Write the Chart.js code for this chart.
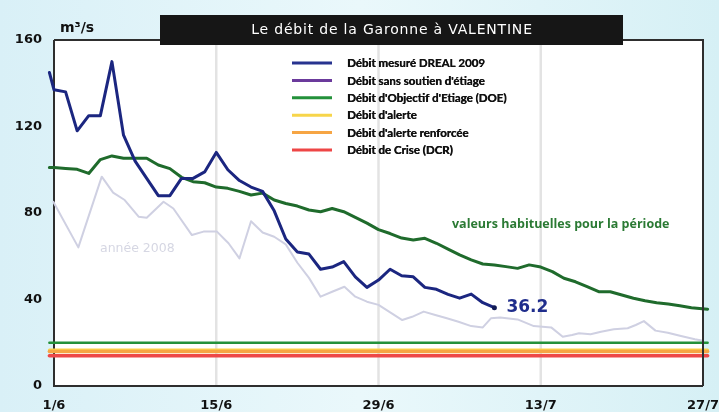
<!DOCTYPE html>
<html><head><meta charset="utf-8">
<script src="https://cdn.jsdelivr.net/npm/chart.js@4.4.0/dist/chart.umd.min.js"></script>
<style>html,body{margin:0;padding:0;background:#e8f6fa;overflow:hidden}canvas{display:block}</style>
</head><body>
<canvas id="c" width="719" height="412"></canvas>
<script>
// ---- data (x in days since 1 June) ----
const xTickDays = [0, 14, 28, 42, 56];
const xTickLabels = ['1/6', '15/6', '29/6', '13/7', '27/7'];
const yTicks = [0, 40, 80, 120, 160];

const drealDays = [-0.4,0,1,2,3,4,5,6,7,8,9,10,11,12,13,14,15,16,17,18,19,20,21,22,23,24,25,26,27,28,29,30,31,32,33,34,35,36,37,38];
const drealFlow = [145,137,136,118,125,125,150,116,104,96,88,88,96,96,99,108,100,95,92,90,81,68,62,61,54,55,57.5,50.5,45.6,49,54,51,50.5,45.6,44.7,42.4,40.6,42.5,38.5,36.2];

const habitDays = [-0.4,0,1,2,3,4,5,6,7,8,9,10,11,12,13,14,15,16,17,18,19,20,21,22,23,24,25,26,27,28,29,30,31,32,33,34,35,36,37,38,39,40,41,42,43,44,45,46,47,48,49,50,51,52,53,54,55,56.4];
const habitFlow = [101,101,100.6,100.2,98.3,104.7,106.4,105.3,105.3,105.3,102.2,100.5,96.5,94.5,94,92,91.4,90,88.3,89.2,86,84.4,83.2,81.4,80.6,82.1,80.6,78,75.3,72.3,70.5,68.4,67.5,68.3,66,63.3,60.6,58.3,56.4,56,55.2,54.4,56,55,52.9,49.8,48.2,45.9,43.6,43.6,42.1,40.6,39.4,38.5,37.9,37.1,36.2,35.5];

const y2008Days = [-0.06,2.1,4.12,5.1,6.1,7.3,8.0,9.45,10.3,11.9,12.9,14.06,15.06,16,17,18,19,20,21,22,23,24,25.06,26,27,28,30.05,30.9,31.9,32.9,33.9,34.9,36,37,37.7,38.5,40,41.4,42.9,43.9,44.7,45.3,46.3,47.2,48.3,49.5,50.2,50.9,51.9,52.96,54.1,55.3,56];
const y2008Flow = [85.2,64.1,96.8,89.4,86,78.3,77.8,85.2,82.1,69.8,71.4,71.4,66,59,76.2,71,69,65.5,57,50,41.3,43.6,45.9,41.3,39,37.5,30.5,32,34.4,32.8,31.3,29.7,27.7,27.1,31.3,31.7,30.8,27.7,27.1,22.8,23.6,24.4,23.9,25.1,26.2,26.7,28.2,30,25.6,24.6,23.1,21.6,20.9];

const refDays = [-0.4, 56.4];
const doeFlow = 20;
const alerteFlow = 16.6;
const alerteRenfFlow = 16;
const crisisFlow = 14;

const legendLabels = ['Débit mesuré DREAL 2009', "Débit sans soutien d'étiage", "Débit d'Objectif d'Etiage (DOE)", "Débit d'alerte", "Débit d'alerte renforcée", 'Débit de Crise (DCR)'];
const legendColors = ['#27338f', '#6b3a9c', '#23913a', '#f7d54a', '#f6a544', '#ee4646'];

const titleText = 'Le débit de la Garonne à VALENTINE';
const unitText = 'm³/s';
const habitText = 'valeurs habituelles pour la période';
const y2008Text = 'année 2008';

const pairs = (xs, ys) => xs.map((x, i) => ({x, y: ys[i]}));
const flat = (xs, v) => xs.map(x => ({x, y: v}));

const lastIdx = drealFlow.length - 1;

function frame(chart) {
  const sx = chart.scales.x, sy = chart.scales.y;
  const l = Math.round(sx.getPixelForValue(xTickDays[0]));
  const r = Math.round(sx.getPixelForValue(xTickDays[xTickDays.length - 1]));
  const t = Math.round(sy.getPixelForValue(yTicks[yTicks.length - 1]));
  const b = Math.round(sy.getPixelForValue(yTicks[0]));
  return {l, r, t, b};
}

const bgPlugin = {
  id: 'bg',
  beforeDatasetsDraw(chart) {
    const {ctx, width, height} = chart;
    const f = frame(chart);
    ctx.save();
    // outer background (redrawn here so nothing from scales leaks outside)
    const g = ctx.createLinearGradient(0, 0, width, 0);
    g.addColorStop(0, '#d9f0f7');
    g.addColorStop(0.5, '#eaf8fb');
    g.addColorStop(1, '#d6f0f5');
    ctx.fillStyle = g;
    ctx.fillRect(0, 0, width, height);
    // white plot area
    ctx.fillStyle = '#ffffff';
    ctx.fillRect(f.l, f.t, f.r - f.l, f.b - f.t);
    // vertical grid lines
    ctx.strokeStyle = '#e3e3e3';
    ctx.lineWidth = 2.5;
    xTickDays.slice(1, -1).forEach(d => {
      const x = chart.scales.x.getPixelForValue(d);
      ctx.beginPath(); ctx.moveTo(x, f.t); ctx.lineTo(x, f.b); ctx.stroke();
    });
    // y tick labels
    ctx.fillStyle = '#111';
    ctx.font = 'bold 13px "DejaVu Sans"';
    ctx.textAlign = 'right';
    ctx.textBaseline = 'middle';
    yTicks.forEach(v => ctx.fillText(String(v), f.l - 12, chart.scales.y.getPixelForValue(v)));
    // left + bottom axis
    ctx.strokeStyle = '#2e2e2e';
    ctx.lineWidth = 2;
    ctx.beginPath();
    ctx.moveTo(f.l, f.t); ctx.lineTo(f.l, f.b); ctx.lineTo(f.r, f.b);
    ctx.stroke();
    ctx.restore();
  },
  afterDraw(chart) {
    const {ctx, scales} = chart;
    const f = frame(chart);
    ctx.save();
    // top + right frame
    ctx.strokeStyle = '#2e2e2e';
    ctx.lineWidth = 2;
    ctx.beginPath();
    ctx.moveTo(f.l, f.t); ctx.lineTo(f.r, f.t); ctx.lineTo(f.r, f.b);
    ctx.stroke();
    // x tick labels
    ctx.fillStyle = '#111';
    ctx.font = 'bold 13px "DejaVu Sans"';
    ctx.textAlign = 'center';
    ctx.textBaseline = 'top';
    xTickDays.forEach((d, i) => {
      ctx.fillText(xTickLabels[i], scales.x.getPixelForValue(d), f.b + 13);
    });
    // title box
    ctx.fillStyle = '#161616';
    ctx.fillRect(160, 15, 463, 30);
    ctx.fillStyle = '#ffffff';
    ctx.font = '14px "DejaVu Sans"';
    ctx.textAlign = 'center';
    ctx.textBaseline = 'middle';
    ctx.letterSpacing = '0.8px';
    ctx.fillText(titleText, 392, 30);
    ctx.letterSpacing = '0px';
    // unit
    ctx.fillStyle = '#111';
    ctx.font = 'bold 14px "DejaVu Sans"';
    ctx.textAlign = 'left';
    ctx.fillText(unitText, 60, 28);
    // legend
    ctx.font = 'bold 11.5px Lato';
    legendLabels.forEach((lab, i) => {
      const y = 63 + i * 17.4;
      ctx.strokeStyle = legendColors[i];
      ctx.lineWidth = 3;
      ctx.beginPath(); ctx.moveTo(292, y); ctx.lineTo(332, y); ctx.stroke();
      ctx.fillStyle = '#111';
      ctx.fillText(lab, 347, y + 0.5);
      ctx.fillText(lab, 347.4, y + 0.5);
    });
    // annotations
    ctx.fillStyle = '#2b7a34';
    ctx.font = 'bold 12.5px "Open Sans"';
    ctx.fillText(habitText, 452, 224);
    ctx.fillStyle = '#d6d7e3';
    ctx.font = '12.5px "DejaVu Sans"';
    ctx.fillText(y2008Text, 100, 249);
    // last value
    const px = scales.x.getPixelForValue(drealDays[lastIdx]);
    const py = scales.y.getPixelForValue(drealFlow[lastIdx]);
    ctx.fillStyle = '#1f2d8c';
    ctx.font = 'bold 17px "DejaVu Sans"';
    ctx.fillText(drealFlow[lastIdx].toFixed(1), px + 12, py);
    ctx.restore();
  }
};

new Chart(document.getElementById('c'), {
  type: 'line',
  data: {
    datasets: [
      {label: 'dreal', data: pairs(drealDays, drealFlow), borderColor: '#1b2680', borderWidth: 3,
       pointRadius: ctx => ctx.dataIndex === lastIdx ? 2.5 : 0, pointBackgroundColor: '#111a55', pointBorderWidth: 0, clip: false},
      {label: 'habit', data: pairs(habitDays, habitFlow), borderColor: '#1f6b2c', borderWidth: 3, pointRadius: 0, clip: false},
      {label: 'doe', data: flat(refDays, doeFlow), borderColor: '#23913a', borderWidth: 2.5, pointRadius: 0, clip: false},
      {label: 'crise', data: flat(refDays, crisisFlow), borderColor: '#ee4848', borderWidth: 3.5, pointRadius: 0, clip: false},
      {label: 'alerteRenf', data: flat(refDays, alerteRenfFlow), borderColor: '#f6a544', borderWidth: 3.5, pointRadius: 0, clip: false},
      {label: 'alerte', data: flat(refDays, alerteFlow), borderColor: '#f7d54a', borderWidth: 3, pointRadius: 0, clip: false},
      {label: '2008', data: pairs(y2008Days, y2008Flow), borderColor: '#cfd0e2', borderWidth: 2, pointRadius: 0, clip: false}
    ]
  },
  options: {
    responsive: false,
    animation: false,
    devicePixelRatio: 1,
    layout: {padding: {top: 40, right: 16, left: 0, bottom: 0}},
    plugins: {legend: {display: false}, tooltip: {enabled: false}},
    elements: {line: {tension: 0, borderCapStyle: 'round', borderJoinStyle: 'round'}},
    scales: {
      x: {
        type: 'linear', min: 0, max: 56,
        afterFit: s => { s.height = 26; },
        ticks: {display: false},
        grid: {display: false},
        border: {display: false}
      },
      y: {
        type: 'linear', min: 0, max: 160,
        afterFit: s => { s.width = 54; },
        ticks: {display: false},
        grid: {display: false},
        border: {display: false}
      }
    }
  },
  plugins: [bgPlugin]
});
</script>
</body></html>
